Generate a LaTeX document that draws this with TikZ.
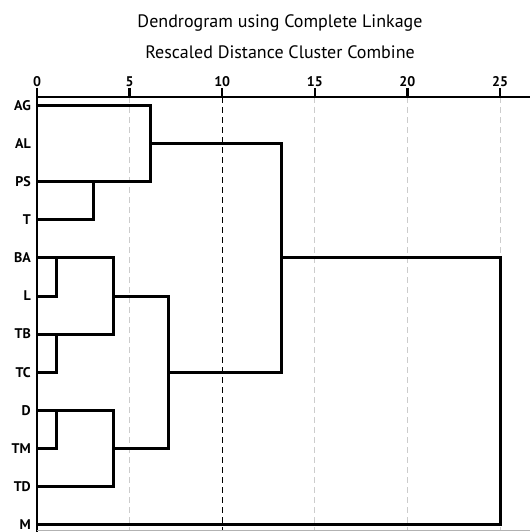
\documentclass[tikz,border=0pt]{standalone}
\usepackage{fontspec}
\setmainfont{PT Sans}
\begin{document}
\begin{tikzpicture}[x=1pt,y=-1pt,
  tree/.style={line width=3pt,line join=miter,line cap=rect},
  axisline/.style={line width=2.6pt},
  tickline/.style={line width=2.4pt},
  majorgrid/.style={line width=1.2pt,dash pattern=on 6pt off 4pt},
  minorgrid/.style={line width=1pt,gray!40,dash pattern=on 6pt off 4pt},
  leaflabel/.style={anchor=base east,inner sep=0pt,font=\bfseries\fontsize{14}{14}\selectfont},
  ticklabel/.style={anchor=base,inner sep=0pt,font=\bfseries\fontsize{14}{14}\selectfont},
  titletext/.style={anchor=base,inner sep=0pt,font=\fontsize{18}{18}\selectfont}]
\useasboundingbox (0,0) rectangle (530,532);
% titles
\node[titletext] (title) at (280,28) {Dendrogram using Complete Linkage};
\node[titletext] (subtitle) at (280,59) {Rescaled Distance Cluster Combine};
% axis ticks and labels
\foreach \v/\xx in {0/37,5/129.6,10/222.2,15/314.8,20/407.4,25/500} {
  \coordinate (t\v) at (\xx,88);
  \coordinate (b\v) at (\xx,97);
  \node[ticklabel] (n\v) at (\xx,86.5) {\v};
  \draw[tickline] (t\v) -- (b\v);
}
% grid lines
\coordinate (g5) at (129.6,530);
\coordinate (g10) at (222.2,530);
\coordinate (g15) at (314.8,530);
\coordinate (g20) at (407.4,530);
\coordinate (g25) at (500,530);
\draw[minorgrid] (b5) -- (g5);
\draw[minorgrid] (b15) -- (g15);
\draw[minorgrid] (b20) -- (g20);
\draw[minorgrid] (b25) -- (g25);
\draw[majorgrid] (b10) -- (g10);
% axis
\coordinate (axisend) at (530,97);
\coordinate (leftbottom) at (37,532);
\draw[axisline] (b0) -- (axisend);
\draw[axisline] (t0) -- (leftbottom);
\coordinate (botL) at (37,530.5);
\coordinate (botR) at (530,530.5);
\draw[line width=0.8pt,gray!60] (botL) -- (botR);
% leaves
\foreach \lab/\yy in {AG/105.5,AL/143.6,PS/181.7,T/219.8,BA/257.9,L/296,TB/334.1,TC/372.2,D/410.3,TM/448.4,TD/486.5,M/524.6} {
  \coordinate (l\lab) at (37,\yy);
  \node[leaflabel] (lab\lab) at (31,\yy+4.8) {\lab};
}
% merge points
\coordinate (mPST) at (93,181.7);
\coordinate (mAG) at (150,181.7);
\coordinate (mAGs) at (150,143.6);
\coordinate (mTop) at (281,372.2);
\coordinate (mTopH) at (168,372.2);
\coordinate (mTopS) at (281,257.9);
\coordinate (mAll) at (500,524.6);
\coordinate (mBAL) at (56,257.9);
\coordinate (mTBC) at (56,334.1);
\coordinate (mDTM) at (56,410.3);
\coordinate (mB4) at (113,334.1);
\coordinate (mB4s) at (113,296);
\coordinate (mB3) at (113,486.5);
\coordinate (mB3s) at (113,448.4);
\coordinate (mB) at (168,448.4);
% cluster 1
\draw[tree] (lT) -| (mPST);
\draw[tree] (lAG) -| (mAG) -- (lPS);
\draw[tree] (mAGs) -| (mTop) -- (mTopH);
\draw[tree] (mTopS) -| (mAll) -- (lM);
% cluster 2
\draw[tree] (lL) -| (mBAL);
\draw[tree] (lTC) -| (mTBC);
\draw[tree] (lTM) -| (mDTM);
\draw[tree] (lBA) -| (mB4) -- (lTB);
\draw[tree] (lD) -| (mB3) -- (lTD);
\draw[tree] (mB4s) -| (mB) -- (mB3s);
\end{tikzpicture}
\end{document}
